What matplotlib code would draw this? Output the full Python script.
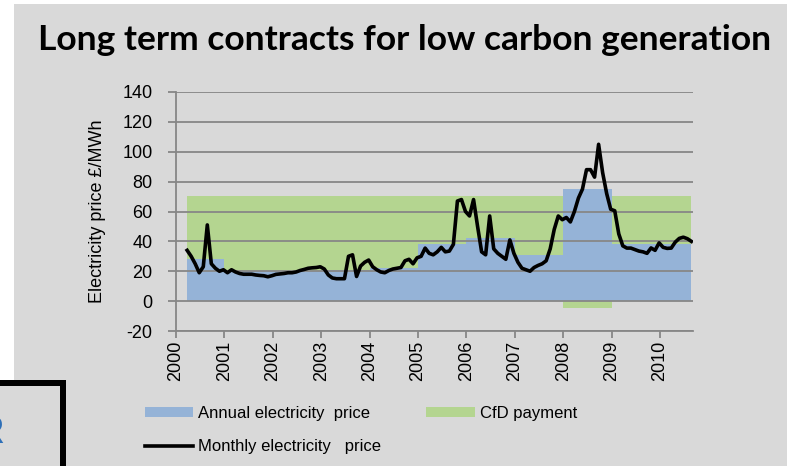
import matplotlib
matplotlib.use('Agg')
import matplotlib.pyplot as plt
from matplotlib.patches import Rectangle, Patch
from matplotlib.lines import Line2D

# ---------------- data ----------------
years = [2000, 2001, 2002, 2003, 2004, 2005, 2006, 2007, 2008, 2009, 2010]
year_labels = [str(y) for y in years]
period_start = [2000.23, 2001, 2002, 2003, 2004, 2005, 2006, 2007, 2008, 2009, 2010]
period_end = [2001, 2002, 2003, 2004, 2005, 2006, 2007, 2008, 2009, 2010, 2010.64]
annual_price = [28, 20, 20, 21, 22.5, 38.5, 42.5, 31, 75, 38, 38]
strike_price = 70.5
cfd_payment = [strike_price - a for a in annual_price]

monthly_start = 2000.23  # first month (Apr 2000)
monthly_price = [
    34, 30, 25, 19, 23, 51, 25, 22, 20, 21,
    19, 21, 19.5, 18.5, 18, 18, 18, 17.5, 17.2, 17,
    16.3, 17, 17.9, 18.2, 18.5, 19, 19, 19.5, 20.5, 21.2,
    22, 22.3, 22.5, 23, 21.5, 17.5, 15.5, 15, 15, 15,
    30, 31, 16.5, 23.5, 26, 27.5, 23, 21, 19.5, 19,
    20.5, 21.5, 22, 22.5, 27, 28, 25, 29, 30, 35.5,
    32, 31, 33, 36, 33, 33.5, 38, 67, 68, 60,
    57, 68, 50, 33, 31, 57, 35, 32, 30, 28,
    41, 32, 26, 22, 21, 20, 22.5, 23.9, 25, 27,
    35, 48, 57, 54.5, 56, 53, 60, 69, 75, 88,
    88, 83, 105, 86, 72, 61.5, 60.5, 45, 37, 35.5,
    35.5, 34.5, 33.5, 33, 32, 35.6, 34, 39, 36, 35.3,
    35.5, 39.5, 42, 42.8, 41.8, 40,
]
monthly_x = [monthly_start + i / 12 for i in range(len(monthly_price))]

y_ticks = [-20, 0, 20, 40, 60, 80, 100, 120, 140]

# ---------------- style ----------------
W, H = 787, 466
BG = '#d9d9d9'
BLUE = '#95b3d7'
GREEN = '#b4d590'
GRID = '#878787'
TXT = '#000000'

fig = plt.figure(figsize=(W / 100, H / 100), dpi=100, facecolor='white')


def fx(x):
    return x / W


def fy(y):
    return 1 - y / H


# slide background pieces
fig.patches.append(Rectangle((fx(14), 0), fx(W - 14), 1 - 4 / H,
                             transform=fig.transFigure, facecolor=BG, edgecolor='none', zorder=-10))
fig.patches.append(Rectangle((0, 0), fx(66), fy(380),
                             transform=fig.transFigure, facecolor='black', edgecolor='none', zorder=-9))
fig.patches.append(Rectangle((0, 0), fx(60), fy(386),
                             transform=fig.transFigure, facecolor=BG, edgecolor='none', zorder=-8))
fig.text(fx(4), fy(443), 'R', ha='right', va='baseline', color='#2e6fb7',
         fontsize=28, fontweight='bold', family='Liberation Sans')

ax = fig.add_axes([fx(176), fy(331), fx(693 - 176), (331 - 92) / H])
ax.set_facecolor('none')

lefts = period_start
widths = [e - s for s, e in zip(period_start, period_end)]
ax.bar(lefts, annual_price, width=widths, align='edge', color=BLUE, linewidth=0, zorder=1)
cfd_bottom = [a if c >= 0 else 0 for a, c in zip(annual_price, cfd_payment)]
ax.bar(lefts, cfd_payment, width=widths, bottom=cfd_bottom, align='edge', color=GREEN,
       linewidth=0, zorder=1)

ax.plot(monthly_x, monthly_price, color='black', lw=2.6, zorder=3, solid_joinstyle='round')

ax.set_xlim(2000, 2010.68)
ax.set_ylim(-20, 140)
ax.set_yticks(y_ticks)
ax.set_yticklabels([str(v) for v in y_ticks], fontsize=13, color=TXT, family='Liberation Sans')
ax.set_xticks(years)
ax.set_xticklabels(year_labels, rotation=90, fontsize=13, color=TXT, family='Liberation Sans')

ax.set_axisbelow(False)
ax.yaxis.grid(True, color=GRID, lw=1.3)
for s in ['top', 'right']:
    ax.spines[s].set_visible(False)
for s in ['left', 'bottom']:
    ax.spines[s].set_color(GRID)
    ax.spines[s].set_linewidth(1.3)
ax.tick_params(axis='y', length=6, width=1.3, color=GRID, pad=11)
ax.tick_params(axis='x', length=5, width=1.3, color=GRID, pad=2)

ax.set_ylabel('Electricity price £/MWh', fontsize=13, color=TXT, family='Liberation Sans')
ax.yaxis.set_label_coords(-0.135, 0.5)

fig.text(fx(405), fy(50), 'Long term contracts for low carbon generation', ha='center',
         va='baseline', fontsize=25.5, fontweight='bold', family='Lato', color='black')

handles = [Patch(facecolor=BLUE, edgecolor='none'),
           Line2D([0], [0], color='black', lw=2.6),
           Patch(facecolor=GREEN, edgecolor='none')]
labels = ['Annual electricity  price', 'Monthly electricity   price', 'CfD payment']
leg = fig.legend(handles, labels, ncol=2, loc='upper left', bbox_to_anchor=(fx(145), fy(406)),
                 frameon=False, prop={'family': 'Liberation Sans', 'size': 12},
                 handlelength=2.9, handleheight=0.48, handletextpad=0.3,
                 columnspacing=2.7, labelspacing=1.08, borderaxespad=0, borderpad=0)
for t in leg.get_texts():
    t.set_color(TXT)

fig.savefig('out.png', dpi=100, facecolor='white')
